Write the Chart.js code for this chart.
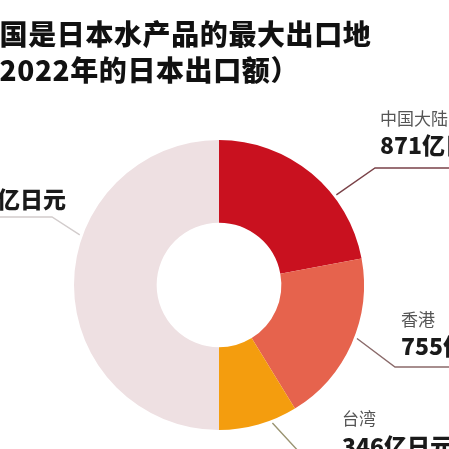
<!DOCTYPE html>
<html>
<head>
<meta charset="utf-8">
<script src="https://cdn.jsdelivr.net/npm/chart.js@4.4.1/dist/chart.umd.min.js"></script>
<style>
  html, body { margin: 0; padding: 0; background: #ffffff; overflow: hidden; }
  #wrap { position: relative; width: 449px; height: 449px; }
  canvas { display: block; }
</style>
</head>
<body>
<div id="wrap"><canvas id="chart" width="449" height="449"></canvas></div>
<script>
// Japan seafood exports by destination, 2022 (100 million yen)
const titleLines = ['中国是日本水产品的最大出口地', '（2022年的日本出口额）'];
const regions = ['中国大陆', '香港', '台湾', '其他'];
const exportValues = [871, 755, 346, 1972];
const valueUnit = '亿日元';
const sliceColors = ['#c9111f', '#e6634d', '#f49d0e', '#eee0e2'];

const CJK = '"Noto Sans CJK SC", "Noto Sans", sans-serif';

// Leader lines and label placement for each slice (same order as regions)
const callouts = [
  { t: 0.66, elbow: [375, 168], end: [470, 168], textX: 380, nameY: 119, valueY: 145, align: 'left', line: '#7a4248' },
  { t: 0.46, elbow: [395, 367], end: [470, 367], textX: 401, nameY: 320, valueY: 346, align: 'left', line: '#8a6a6a' },
  { t: 0.33, elbow: [312, 466], end: [470, 466], textX: 342, nameY: 419, valueY: 446, align: 'left', line: '#9a9472' },
  { t: 0.61, elbow: [52, 217], end: [-20, 217], textX: -59, nameY: 172, valueY: 199, align: 'left', line: '#d2cccc' }
];

const calloutPlugin = {
  id: 'callouts',
  afterDatasetsDraw(chart) {
    const ctx = chart.ctx;
    const arcs = chart.getDatasetMeta(0).data;
    ctx.save();
    arcs.forEach((arc, i) => {
      const c = callouts[i];
      const p = arc.getProps(['x', 'y', 'startAngle', 'endAngle', 'outerRadius'], true);
      const a = p.startAngle + c.t * (p.endAngle - p.startAngle);
      const r = p.outerRadius + 3;
      const ax = p.x + Math.cos(a) * r;
      const ay = p.y + Math.sin(a) * r;
      ctx.beginPath();
      ctx.moveTo(ax, ay);
      ctx.lineTo(c.elbow[0], c.elbow[1]);
      ctx.lineTo(c.end[0], c.end[1]);
      ctx.strokeStyle = c.line;
      ctx.lineWidth = 1.4;
      ctx.stroke();

      ctx.textAlign = c.align;
      ctx.textBaseline = 'middle';
      ctx.fillStyle = '#555555';
      ctx.font = '17px ' + CJK;
      ctx.fillText(regions[i], c.textX, c.nameY);
      ctx.fillStyle = '#1a1a1a';
      ctx.font = '900 23px ' + CJK;
      ctx.fillText(exportValues[i] + valueUnit, c.textX, c.valueY);
    });

    // heading
    ctx.textAlign = 'left';
    ctx.textBaseline = 'middle';
    ctx.fillStyle = '#111111';
    ctx.font = '900 28px ' + CJK;
    ctx.letterSpacing = '0.6px';
    ctx.fillText(titleLines[0], -29, 34);
    ctx.fillText(titleLines[1], -29, 70);
    ctx.restore();
  }
};

new Chart(document.getElementById('chart'), {
  type: 'doughnut',
  data: {
    labels: regions,
    datasets: [{
      data: exportValues,
      backgroundColor: sliceColors,
      borderWidth: 0,
      hoverOffset: 0
    }]
  },
  options: {
    responsive: false,
    maintainAspectRatio: false,
    animation: false,
    cutout: '43%',
    layout: { padding: { left: 74, right: 85, top: 140, bottom: 19 } },
    plugins: {
      legend: { display: false },
      tooltip: { enabled: false },
      title: { display: false }
    }
  },
  plugins: [calloutPlugin]
});
</script>
</body>
</html>
